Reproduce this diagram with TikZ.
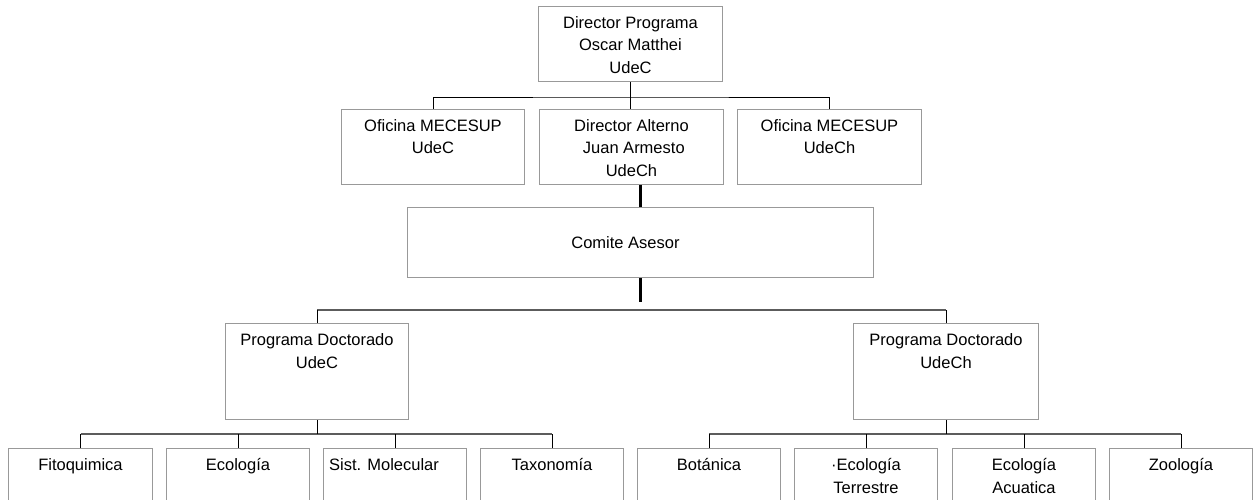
\documentclass[tikz,border=0pt]{standalone}
\usepackage{fontspec}
\setmainfont{Liberation Sans}

\definecolor{boxline}{HTML}{999999}
\definecolor{busline}{HTML}{5C5C5C}

\begin{document}
\begin{tikzpicture}[
    x=1pt, y=-1pt,
    every node/.style={font=\fontsize{16.5}{22.5}\selectfont},
    unit/.style 2 args={draw=boxline, line width=1pt, inner sep=0pt, anchor=north west,
        execute at begin node={\begin{minipage}[c][#2pt][t]{#1pt}\centering\rule{0pt}{22pt}},
        execute at end node={\end{minipage}}},
    panel/.style={draw=boxline, line width=1pt, inner sep=0pt, anchor=north west,
        minimum width=466pt, minimum height=70pt},
    tie/.style={draw=black, line width=0.9pt},
    bus/.style={draw=busline, line width=1.6pt},
    trunk/.style={draw=black, line width=2.2pt}
]

\useasboundingbox (0,0) rectangle (1259,500);
\clip (0,0) rectangle (1259,500);

% Direction
\node[unit={184}{75}] (dirprog) at (538,6) {Director Programa\\Oscar Matthei\\UdeC};

% Second row
\node[unit={183}{75}] (ofudec) at (341,109) {Oficina MECESUP\\UdeC};
\node[unit={184}{75}] (diralt) at (539,109) {Director Alterno\\\hspace*{4.6pt}Juan Armesto\\UdeCh};
\node[unit={184}{75}] (ofudech) at (737,109) {Oficina MECESUP\\UdeCh};

% Committee
\node[panel] (comite) at (407,207) {Comite Asesor\rule{30pt}{0pt}};

% Doctoral programs
\node[unit={183}{96}] (progudec) at (225,323) {Programa Doctorado\\UdeC};
\node[unit={185}{96}] (progudech) at (853,323) {Programa Doctorado\\UdeCh};

% Lines of the programs
\node[unit={144}{70}] (fito) at (8,448) {Fitoquimica};
\node[unit={143}{70}] (ecol) at (166,448) {Ecología};
\node[unit={143}{70}] (sist) at (323,448) {Sist. Molecular\rule{22pt}{0pt}};
\node[unit={143}{70}] (taxo) at (480,448) {Taxonomía};
\node[unit={143}{70}] (bota) at (637,448) {Botánica};
\node[unit={143}{70}] (ecoter) at (794,448) {·Ecología\\Terrestre};
\node[unit={143}{70}] (ecoacu) at (952,448) {Ecología\\Acuatica};
\node[unit={143}{70}] (zool) at (1109,448) {Zoología};

% Draw first level links
\draw[tie] (dirprog.south) -- ++(0,15) coordinate (bus1);
\draw[tie] (ofudec.north) |- (bus1) -| (ofudech.north);
\draw[tie] (bus1) -- (bus1 |- diralt.north);

% Draw committee links
\draw[trunk] (comite.north |- diralt.south) -- (comite.north);
\draw[trunk] (comite.south) -- ++(0,24);
\path (comite.south) ++(0,32) coordinate (bus2);
\draw[bus] (progudec.north |- bus2) -- (progudech.north |- bus2);
\draw[tie] (progudec.north) -- (progudec.north |- bus2);
\draw[tie] (progudech.north) -- (progudech.north |- bus2);

% Draw program links
\path (progudec.south) ++(0,14) coordinate (bus3a);
\path (progudech.south) ++(0,14) coordinate (bus3b);
\draw[bus] (fito.north |- bus3a) -- (taxo.north |- bus3a);
\draw[bus] (bota.north |- bus3b) -- (zool.north |- bus3b);
\draw[tie] (progudec.south) -- (bus3a);
\draw[tie] (progudech.south) -- (bus3b);
\foreach \n in {fito, ecol, sist, taxo}
    \draw[tie] (\n.north) -- (\n.north |- bus3a);
\foreach \n in {bota, ecoter, ecoacu, zool}
    \draw[tie] (\n.north) -- (\n.north |- bus3b);

\end{tikzpicture}
\end{document}
